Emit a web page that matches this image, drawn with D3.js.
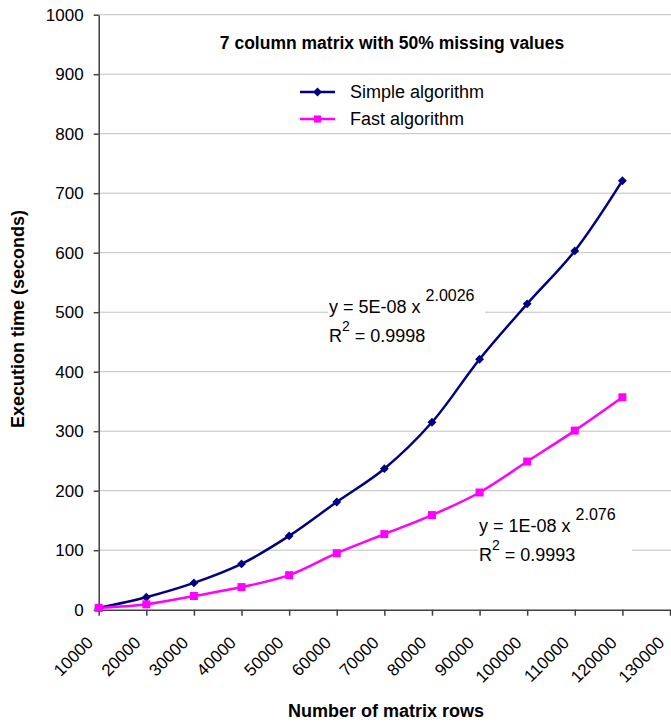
<!DOCTYPE html>
<html>
<head>
<meta charset="utf-8">
<script src="https://cdn.jsdelivr.net/npm/d3@7"></script>
<style>
  body { margin: 0; background: #fff; }
  text { font-family: "Liberation Sans", Arial, sans-serif; fill: #000; }
  .grid line { stroke: #c0c0c0; stroke-width: 1; }
  .axis path, .axis line { stroke: #404040; stroke-width: 1.5; }
</style>
</head>
<body>
<script>
// data
var rows = [10000, 20000, 30000, 40000, 50000, 60000, 70000, 80000, 90000, 100000, 110000, 120000];
var simpleTimes = [3, 21, 45, 77, 124, 181, 237, 315, 421, 514, 603, 721];
var fastTimes = [3, 9, 23, 38, 58, 95, 127, 159, 197, 249, 301, 357];
var xTicks = [10000, 20000, 30000, 40000, 50000, 60000, 70000, 80000, 90000, 100000, 110000, 120000, 130000];
var yTicks = [0, 100, 200, 300, 400, 500, 600, 700, 800, 900, 1000];
var seriesNames = ["Simple algorithm", "Fast algorithm"];
var fitLines = [["y = 5E-08 x ", "2.0026", "R", "2", " = 0.9998"], ["y = 1E-08 x ", "2.076", "R", "2", " = 0.9993"]];

window.onload = drawChart();

function drawChart(){
    var width = 671, height = 723;

    var svg = d3.select("body").append("svg")
        .attr("width", width)
        .attr("height", height);

    var x = d3.scaleLinear().domain([10000, 130000]).range([98.7, 670]);
    var y = d3.scaleLinear().domain([0, 1000]).range([609.7, 14.7]);

    // gridlines
    svg.append("g").attr("class", "grid")
        .selectAll("line")
        .data(yTicks.slice(1))
        .enter().append("line")
        .attr("x1", x(10000)).attr("x2", 671)
        .attr("y1", function(d){ return y(d); })
        .attr("y2", function(d){ return y(d); });

    // trendline label boxes (white, hide gridlines behind them)
    var boxes = [[328, 292, 157, 58], [478, 510, 154, 58]];
    svg.selectAll(".lblbox").data(boxes).enter().append("rect")
        .attr("x", function(d){ return d[0]; })
        .attr("y", function(d){ return d[1]; })
        .attr("width", function(d){ return d[2]; })
        .attr("height", function(d){ return d[3]; })
        .attr("fill", "#fff");

    // y axis
    var yAxis = svg.append("g").attr("class", "axis")
        .attr("transform", "translate(" + x(10000) + ",0)")
        .call(d3.axisLeft(y).tickValues(yTicks).tickSize(5).tickSizeOuter(0).tickPadding(10).tickFormat(d3.format("d")));
    yAxis.selectAll("text").style("font-size", "17px").attr("fill", "#000");

    // x axis
    var xAxis = svg.append("g").attr("class", "axis")
        .attr("transform", "translate(0," + y(0) + ")")
        .call(d3.axisBottom(x).tickValues(xTicks).tickSize(6).tickSizeOuter(0).tickFormat(d3.format("d")));
    xAxis.selectAll("text")
        .style("font-size", "17px")
        .attr("fill", "#000")
        .attr("text-anchor", "end")
        .attr("y", 0).attr("dy", 0)
        .attr("transform", "translate(-5,34) rotate(-45)");

    // series lines
    var line = d3.line()
        .x(function(d, i){ return x(rows[i]); })
        .y(function(d){ return y(d); })
        .curve(d3.curveCatmullRom.alpha(0.5));

    svg.append("path").datum(simpleTimes)
        .attr("d", line).attr("fill", "none")
        .attr("stroke", "#000080").attr("stroke-width", 2.5);
    svg.append("path").datum(fastTimes)
        .attr("d", line).attr("fill", "none")
        .attr("stroke", "#ff00ff").attr("stroke-width", 2.5);

    var diamond = d3.symbol().type(d3.symbolDiamond2).size(50);

    svg.selectAll(".simpleMark").data(simpleTimes).enter().append("path")
        .attr("d", diamond)
        .attr("transform", function(d, i){ return "translate(" + x(rows[i]) + "," + y(d) + ")"; })
        .attr("fill", "#000080");
    svg.selectAll(".fastMark").data(fastTimes).enter().append("rect")
        .attr("x", function(d, i){ return x(rows[i]) - 4; })
        .attr("y", function(d){ return y(d) - 4; })
        .attr("width", 8).attr("height", 8)
        .attr("fill", "#ff00ff");

    // title
    svg.append("text")
        .attr("x", 392).attr("y", 49)
        .attr("text-anchor", "middle")
        .style("font-size", "17.5px").style("font-weight", "bold")
        .text("7 column matrix with 50% missing values");

    // legend
    var colors = ["#000080", "#ff00ff"];
    var legend = svg.selectAll(".legend").data(seriesNames).enter().append("g")
        .attr("transform", function(d, i){ return "translate(300," + (92 + i * 27) + ")"; });
    legend.append("line")
        .attr("x1", 0).attr("x2", 35)
        .attr("stroke", function(d, i){ return colors[i]; })
        .attr("stroke-width", 2.5);
    legend.append("path")
        .attr("d", function(d, i){ return i === 0 ? diamond() : d3.symbol().type(d3.symbolSquare).size(50)(); })
        .attr("transform", "translate(17.5,0)")
        .attr("fill", function(d, i){ return colors[i]; });
    legend.append("text")
        .attr("x", 50).attr("dy", "0.35em")
        .style("font-size", "18px")
        .text(function(d){ return d; });

    // trendline equations
    var eqPos = [[329, 313], [479, 532]];
    fitLines.forEach(function(f, i){
        var g = svg.append("g").attr("transform", "translate(" + eqPos[i][0] + "," + eqPos[i][1] + ")");
        var t1 = g.append("text").style("font-size", "18px");
        t1.append("tspan").text(f[0]);
        t1.append("tspan").attr("dy", -12).style("font-size", "16px").text(f[1]);
        var t2 = g.append("text").attr("y", 29).style("font-size", "18px");
        t2.append("tspan").text(f[2]);
        t2.append("tspan").attr("dy", -11).style("font-size", "14px").text(f[3]);
        t2.append("tspan").attr("dy", 11).text(f[4]);
    });

    // axis titles
    svg.append("text")
        .attr("x", 386).attr("y", 717)
        .attr("text-anchor", "middle")
        .style("font-size", "18px").style("font-weight", "bold")
        .text("Number of matrix rows");
    svg.append("text")
        .attr("transform", "translate(24,319) rotate(-90)")
        .attr("text-anchor", "middle")
        .style("font-size", "18px").style("font-weight", "bold")
        .text("Execution time (seconds)");
}
</script>
</body>
</html>
